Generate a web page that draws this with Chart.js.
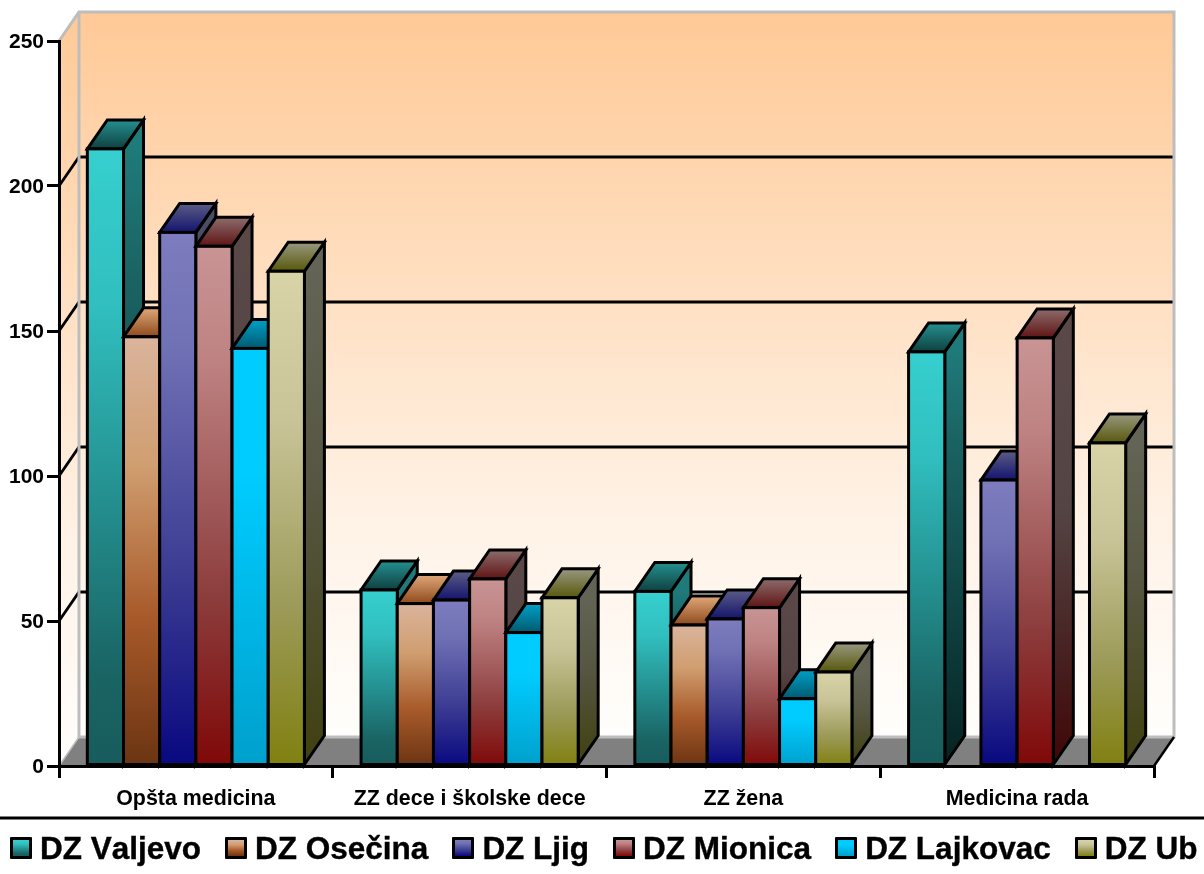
<!DOCTYPE html>
<html>
<head>
<meta charset="utf-8">
<style>
html,body{margin:0;padding:0;background:#fff;width:1204px;height:874px;overflow:hidden}
#wrap{position:relative;width:1204px;height:874px}
canvas{display:block}
#legend{position:absolute;left:10px;top:825px;display:flex;align-items:center;height:46px;font:bold 31.5px "Liberation Sans",Arial,sans-serif;font-kerning:none;color:#000;white-space:nowrap;-webkit-text-stroke:0.4px #000}
.item{display:flex;align-items:center;margin-right:24px}
.box{width:16px;height:16px;border:3px solid #000;margin-right:8px;border-radius:1px}
</style>
</head>
<body>
<div id="wrap">
<canvas id="c" width="1204" height="874"></canvas>
<div id="legend"></div>
</div>
<script src="https://cdn.jsdelivr.net/npm/chart.js@4"></script>
<script>
const categories = ["Opšta medicina", "ZZ dece i školske dece", "ZZ žena", "Medicina rada"];
const seriesNames = ["DZ Valjevo", "DZ Osečina", "DZ Ljig", "DZ Mionica", "DZ Lajkovac", "DZ Ub"];
const valjevo = [212.8, 60.7, 60.2, 142.8];
const osecina = [148, 56, 48.6, null];
const ljig = [184, 57.2, 50.7, 98.6];
const mionica = [179.2, 64.5, 54.6, 147.6];
const lajkovac = [144, 46, 23.2, null];
const ub = [170.6, 58, 32.4, 111.4];
const seriesValues = [valjevo, osecina, ljig, mionica, lajkovac, ub];
const yTicks = [0, 50, 100, 150, 200, 250];

const frontColors = [
  [[0,"#36CFCF"],[0.25,"#31BFBF"],[0.6,"#238A8A"],[0.85,"#1A6464"],[1,"#185C5C"]],
  [[0,"#DAB49C"],[0.3,"#D09E70"],[0.65,"#A85A2A"],[1,"#6B3412"]],
  [[0,"#7C7CBE"],[0.22,"#7070B5"],[0.65,"#3A3A92"],[1,"#080880"]],
  [[0,"#C99494"],[0.22,"#BE8282"],[0.68,"#8C3C3C"],[1,"#800808"]],
  [[0,"#00CCFF"],[0.3,"#00CCFF"],[1,"#00A0CC"]],
  [[0,"#D8D4A8"],[0.3,"#C8C498"],[0.68,"#9C9A58"],[1,"#808010"]]
];
const sideColors = [
  [[0,"#1F7A7A"],[0.2,"#1B6464"],[1,"#062222"]],
  [[0,"#5C4A40"],[1,"#3A1D0A"]],
  [[0,"#4C4C66"],[1,"#040440"]],
  [[0,"#5A4848"],[0.4,"#544444"],[1,"#400606"]],
  [[0,"#006680"],[1,"#005066"]],
  [[0,"#646456"],[0.45,"#555540"],[1,"#404010"]]
];
const topColors = [
  [[0,"#259090"],[1,"#0F4040"]],
  [[0,"#DFA87A"],[1,"#8F4A1C"]],
  [[0,"#5C5C86"],[1,"#14146E"]],
  [[0,"#8C6C6C"],[1,"#601414"]],
  [[0,"#00A0C8"],[1,"#005A70"]],
  [[0,"#989880"],[1,"#58580C"]]
];

const DX = 20, DY = -29;
const LINE = 3;

function grad(ctx, y0, y1, stops) {
  const g = ctx.createLinearGradient(0, y0, 0, y1);
  stops.forEach(s => g.addColorStop(s[0], s[1]));
  return g;
}
function poly(ctx, pts, fill, stroke, lw) {
  ctx.beginPath();
  pts.forEach((p, i) => i ? ctx.lineTo(p[0], p[1]) : ctx.moveTo(p[0], p[1]));
  ctx.closePath();
  if (fill) { ctx.fillStyle = fill; ctx.fill(); }
  if (stroke) { ctx.strokeStyle = stroke; ctx.lineWidth = lw; ctx.lineJoin = "miter"; ctx.stroke(); }
}
function line(ctx, pts, color, lw) {
  ctx.beginPath();
  pts.forEach((p, i) => i ? ctx.lineTo(p[0], p[1]) : ctx.moveTo(p[0], p[1]));
  ctx.strokeStyle = color; ctx.lineWidth = lw; ctx.stroke();
}

const wallStops = [[0,"#FFC996"],[0.7,"#FFF2E6"],[1,"#FFFEFC"]];

const box3d = {
  id: "box3d",
  beforeDraw(chart) {
    const ctx = chart.ctx;
    const a = chart.chartArea;
    const y = chart.scales.y;
    const L = a.left, R = a.right, T = a.top, B = a.bottom;
    ctx.save();
    poly(ctx, [[L + DX, T + DY], [R + DX, T + DY], [R + DX, B + DY], [L + DX, B + DY]], grad(ctx, T + DY, B + DY, wallStops));
    poly(ctx, [[L, T], [L + DX, T + DY], [L + DX, B + DY], [L, B]], grad(ctx, T + DY, B, wallStops));
    poly(ctx, [[L, B], [L + DX, B + DY], [R + DX, B + DY], [R, B]], "#808080");
    yTicks.forEach(v => {
      if (v === 0 || v === 250) return;
      const p = y.getPixelForValue(v);
      line(ctx, [[L, p], [L + DX, p + DY], [R + DX, p + DY]], "#000", 2.8);
    });
    line(ctx, [[L, T], [L + DX, T + DY], [R + DX, T + DY], [R + DX, B + DY], [L + DX, B + DY], [L + DX, T + DY]], "#BDBDBD", 3);
    line(ctx, [[L, B], [L + DX, B + DY]], "#BDBDBD", 1.5);
    line(ctx, [[R, B], [R + DX, B + DY]], "#000", 2.5);
    line(ctx, [[0, 818], [chart.width, 818]], "#000", 3);
    ctx.restore();
  },
  beforeDatasetsDraw(chart) {
    const ctx = chart.ctx;
    chart.data.datasets.forEach((ds, i) => {
      const meta = chart.getDatasetMeta(i);
      meta.data.forEach((el, j) => {
        if (ds.data[j] == null) return;
        const x0 = el.x - el.width / 2, x1 = el.x + el.width / 2, t = el.y, b = el.base;
        ctx.save();
        poly(ctx, [[x1, t], [x1 + DX, t + DY], [x1 + DX, b + DY], [x1, b]],
          grad(ctx, t, b, sideColors[i]), "#000", LINE);
        poly(ctx, [[x0, t], [x0 + DX, t + DY], [x1 + DX, t + DY], [x1, t]],
          grad(ctx, t + DY, t, topColors[i]), "#000", LINE);
        el.draw(ctx);
        ctx.strokeStyle = "#000";
        ctx.lineWidth = LINE;
        ctx.strokeRect(x0, t, x1 - x0, b - t);
        ctx.restore();
      });
    });
    return false;
  }
};

const tickFont = { family: "'Liberation Sans', Arial, sans-serif", weight: "bold", size: 21.4 };

const chart = new Chart(document.getElementById("c"), {
  type: "bar",
  data: {
    labels: categories,
    datasets: seriesNames.map((name, i) => ({
      label: name,
      data: seriesValues[i],
      borderWidth: 0,
      backgroundColor: c => {
        const ch = c.chart;
        if (!ch.chartArea || c.raw == null) return frontColors[i][0][1];
        return grad(ch.ctx, ch.scales.y.getPixelForValue(c.raw), ch.scales.y.getPixelForValue(0), frontColors[i]);
      }
    }))
  },
  plugins: [box3d],
  options: {
    responsive: false,
    animation: false,
    events: [],
    layout: { padding: { top: 41, left: 0, right: 50, bottom: 0 } },
    datasets: { bar: { categoryPercentage: 0.793, barPercentage: 1 } },
    plugins: { legend: { display: false }, tooltip: { enabled: false }, title: { display: false } },
    scales: {
      x: {
        afterFit: s => { s.height = 108; },
        border: { color: "#000", width: 3 },
        grid: { drawOnChartArea: false, drawTicks: true, tickLength: 12, color: "#000", lineWidth: 3, offset: true },
        ticks: { color: "#000", padding: 8, maxRotation: 0, autoSkip: false, font: tickFont }
      },
      y: {
        min: 0, max: 250,
        afterFit: s => { s.width = 59; },
        afterBuildTicks: s => { s.ticks = yTicks.map(v => ({ value: v })); },
        border: { color: "#000", width: 3 },
        grid: { drawOnChartArea: false, drawTicks: true, tickLength: 12, color: "#000", lineWidth: 3 },
        ticks: { color: "#000", padding: 3, labelOffset: 1, font: { family: tickFont.family, weight: "bold", size: 21 } }
      }
    }
  }
});

const legendEl = document.getElementById("legend");
chart.data.datasets.forEach((ds, i) => {
  const item = document.createElement("div");
  item.className = "item";
  const b = document.createElement("span");
  b.className = "box";
  b.style.background = "linear-gradient(" + frontColors[i].map(s => s[1] + " " + s[0] * 100 + "%").join(",") + ")";
  const t = document.createElement("span");
  t.textContent = ds.label;
  item.appendChild(b);
  item.appendChild(t);
  legendEl.appendChild(item);
});
</script>
</body>
</html>
